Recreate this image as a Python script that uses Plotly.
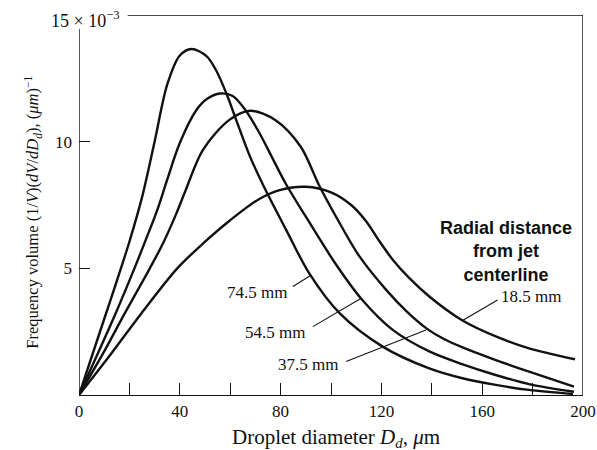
import plotly.graph_objects as go

# ---- data ----
d_745 = [0, 5, 10, 15, 20, 25, 30, 35, 40, 44.6, 50.6, 54.5, 58.5, 62.4, 67.7,
         73.5, 82.3, 91.5, 103.4, 120.5, 139, 152.2, 165.4, 178.6, 196]
v_745 = [0, 1.5, 3.0, 4.5, 6.05, 7.8, 10.0, 12.25, 13.4, 13.66, 13.38, 12.8, 11.9, 10.85,
         9.45, 8.2, 6.5, 4.78, 3.23, 1.91, 1.05, 0.66, 0.4, 0.2, 0.04]

d_545 = [0, 14, 22, 27, 31.4, 35, 40, 46.6, 51, 56, 61, 66, 71, 76, 82, 91.5, 102, 112,
         124.5, 139, 152, 165, 179, 196.4]
v_545 = [0, 3.1, 5.0, 6.25, 7.4, 8.5, 9.95, 11.25, 11.7, 11.9, 11.8, 11.25, 10.45, 9.5,
         8.35, 6.8, 5.15, 3.8, 2.57, 1.72, 1.22, 0.8, 0.42, 0.13]

d_375 = [0, 9.6, 18.2, 28.1, 33.4, 38.7, 42, 49.2, 59.8, 68, 78, 88, 95.4, 103.4, 111.3,
         121.9, 130, 138, 145, 152.2, 165.4, 178.6, 196.4]
v_375 = [0, 1.65, 3.23, 5.0, 6.0, 7.18, 8.0, 9.68, 10.87, 11.22, 10.85, 9.8, 8.25, 6.79,
         5.47, 4.15, 3.3, 2.62, 2.2, 1.88, 1.38, 0.92, 0.33]

d_185 = [0, 12.9, 24.8, 39, 50, 60, 71.7, 80, 90, 100, 108, 114, 119, 124.5, 131, 139,
         152.2, 165.4, 178.6, 196.8]
v_185 = [0, 1.65, 3.23, 5.0, 6.05, 6.9, 7.75, 8.1, 8.22, 8.0, 7.5, 6.85, 6.1, 5.34, 4.62,
         3.89, 2.94, 2.31, 1.84, 1.41]

series_names = ["74.5 mm", "54.5 mm", "37.5 mm", "18.5 mm"]

x_tick_vals = [0, 20, 40, 60, 80, 100, 120, 140, 160, 180, 200]
x_tick_text = ["0", "", "40", "", "80", "", "120", "", "160", "", "200"]
y_tick_vals = [5, 10]
y_tick_text = ["5", "10"]

SERIF = "Liberation Serif, Times New Roman, serif"
SANS = "Liberation Sans, Arial, sans-serif"
INK = "#111111"

fig = go.Figure()
for name, xs, ys in zip(series_names, [d_745, d_545, d_375, d_185],
                        [v_745, v_545, v_375, v_185]):
    fig.add_trace(go.Scatter(x=xs, y=ys, mode="lines", name=name,
                             line=dict(color=INK, width=2.4, shape="spline", smoothing=0.9),
                             showlegend=False, hoverinfo="skip"))

# leader lines from labels to curves
leaders = [
    ((84.9, 4.28), (92.2, 4.74)),
    ((92.8, 2.70), (112.0, 3.82)),
    ((106.0, 1.32), (137.7, 2.57)),
    ((166.1, 3.75), (152.2, 2.94)),
]
shapes = []
for (x0, y0), (x1, y1) in leaders:
    shapes.append(dict(type="line", xref="x", yref="y", x0=x0, y0=y0, x1=x1, y1=y1,
                       line=dict(color=INK, width=1.1)))
# frame: left axis (stops under the top label), top and right borders
shapes.append(dict(type="line", xref="x", yref="y", x0=0, y0=0, x1=0, y1=14.45,
                   line=dict(color=INK, width=1.4)))
shapes.append(dict(type="line", xref="x", yref="y", x0=19.3, y0=15, x1=200, y1=15,
                   line=dict(color=INK, width=1.4)))
shapes.append(dict(type="line", xref="x", yref="y", x0=200, y0=0, x1=200, y1=15,
                   line=dict(color=INK, width=1.4)))

annotations = [
    dict(x=83.3, y=4.05, text="74.5 mm", xanchor="right", yanchor="middle"),
    dict(x=90.5, y=2.45, text="54.5 mm", xanchor="right", yanchor="middle"),
    dict(x=103.6, y=1.22, text="37.5 mm", xanchor="right", yanchor="middle"),
    dict(x=166.6, y=3.9, text="18.5 mm", xanchor="left", yanchor="middle"),
]
for a in annotations:
    a.update(xref="x", yref="y", showarrow=False, font=dict(family=SERIF, size=17, color=INK))

annotations.append(dict(xref="x", yref="y", x=169.5, y=5.65,
                        text="<b>Radial distance<br>from jet<br>centerline</b>",
                        showarrow=False, align="center", xanchor="center", yanchor="middle",
                        font=dict(family=SANS, size=18, color=INK)))
annotations.append(dict(xref="x", yref="y", x=17.0, y=15, yshift=-4,
                        text="15 × 10<sup>−3</sup>", showarrow=False,
                        xanchor="right", yanchor="middle",
                        font=dict(family=SERIF, size=18, color=INK)))
annotations.append(dict(xref="paper", yref="paper", x=0.51, y=-0.112,
                        text="Droplet diameter <i>D<sub>d</sub></i>, <i>μ</i>m",
                        showarrow=False, xanchor="center", yanchor="middle",
                        font=dict(family=SERIF, size=21, color=INK)))
annotations.append(dict(xref="paper", yref="paper", x=-0.093, y=0.48,
                        text="Frequency volume (1/<i>V</i>)(<i>dV</i>/<i>dD<sub>d</sub></i>), (<i>μm</i>)<sup>−1</sup>",
                        textangle=-90, showarrow=False, xanchor="center", yanchor="middle",
                        font=dict(family=SERIF, size=16.5, color=INK)))

fig.update_layout(
    width=597, height=450, autosize=False,
    margin=dict(l=79, r=14, t=15, b=55, pad=0, autoexpand=False),
    paper_bgcolor="white", plot_bgcolor="white",
    shapes=shapes, annotations=annotations,
    xaxis=dict(range=[0, 200], tickvals=x_tick_vals, ticktext=x_tick_text,
               ticks="inside", ticklen=12, tickwidth=1.2, tickcolor=INK,
               showline=True, linecolor=INK, linewidth=1.4, showgrid=False,
               zeroline=False, automargin=False,
               tickfont=dict(family=SERIF, size=17, color=INK),
               fixedrange=True),
    yaxis=dict(range=[0, 15], tickvals=y_tick_vals, ticktext=y_tick_text,
               ticks="inside", ticklen=11, tickwidth=1.2, tickcolor=INK,
               showline=False, showgrid=False, zeroline=False, automargin=False,
               ticklabelstandoff=6,
               tickfont=dict(family=SERIF, size=17, color=INK), fixedrange=True),
)

fig.write_html("out.html", config={"responsive": False, "displayModeBar": False})
